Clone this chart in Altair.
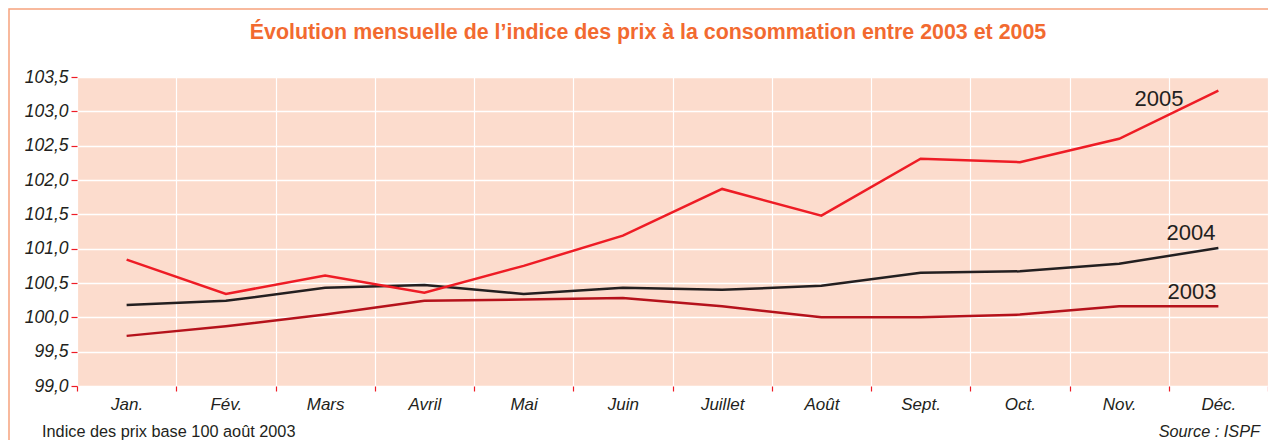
import altair as alt
import pandas as pd

# ---- data ----
months = ["Jan.", "Fév.", "Mars", "Avril", "Mai", "Juin", "Juillet", "Août",
          "Sept.", "Oct.", "Nov.", "Déc."]
idx_2003 = [99.73, 99.87, 100.04, 100.24, 100.26, 100.28, 100.16, 100.00,
            100.00, 100.04, 100.16, 100.16]
idx_2004 = [100.18, 100.24, 100.43, 100.47, 100.34, 100.43, 100.40, 100.46,
            100.65, 100.67, 100.78, 101.01]
idx_2005 = [100.84, 100.34, 100.61, 100.36, 100.75, 101.19, 101.87, 101.48,
            102.31, 102.26, 102.60, 103.30]
years = ["2003", "2004", "2005"]
line_colors = ["#b5121b", "#231f20", "#ee1c25"]
y_ticks = [99.0, 99.5, 100.0, 100.5, 101.0, 101.5, 102.0, 102.5, 103.0, 103.5]

title_text = "Évolution mensuelle de l’indice des prix à la consommation entre 2003 et 2005"
foot_left = "Indice des prix base 100 août 2003"
foot_right = "Source : ISPF"

rows = []
for yr, vals in zip(years, [idx_2003, idx_2004, idx_2005]):
    for m, v in zip(months, vals):
        rows.append({"mois": m, "annee": yr, "indice": v})
df = pd.DataFrame(rows)

FONT = "Liberation Sans"
LEFT, TOP = 69, 69          # plot origin inside the svg
W, H = 1191, 309

x_enc = alt.X(
    "mois:N", sort=months, bandPosition=0.5,
    scale=alt.Scale(type="band", paddingInner=0, paddingOuter=0),
    axis=alt.Axis(title=None, tickBand="extent", domain=False,
                  tickColor="#ee1c25", tickSize=5, tickWidth=1.2,
                  labelFont=FONT, labelFontStyle="italic", labelFontSize=17,
                  labelColor="#231f20", labelAngle=0, labelPadding=5,
                  labelOverlap=False,
                  grid=True, gridColor="white", gridWidth=1.2),
)
y_enc = alt.Y(
    "indice:Q",
    scale=alt.Scale(domain=[99, 103.5], zero=False, nice=False),
    axis=alt.Axis(title=None, values=y_ticks, domain=False,
                  labelExpr="replace(format(datum.value, '.1f'), '.', ',')",
                  labelOverlap=False,
                  tickColor="#ee1c25", tickSize=6, tickWidth=1.2,
                  labelFont=FONT, labelFontStyle="italic", labelFontSize=17.5,
                  labelColor="#231f20", labelPadding=3,
                  grid=True, gridColor="white", gridWidth=1.4),
)
color_enc = alt.Color("annee:N", scale=alt.Scale(domain=years, range=line_colors),
                      legend=None)

base = alt.Chart(df)

lines = base.mark_line(strokeWidth=2.5).encode(x=x_enc, y=y_enc, color=color_enc)


def year_label(yr, dx, dy):
    return base.transform_filter(
        f"datum.annee == '{yr}' && datum.mois == 'Déc.'"
    ).mark_text(align="right", baseline="middle", dx=dx, dy=dy,
                font=FONT, fontSize=22, color="#231f20").encode(
        x=x_enc, y=y_enc, text="annee:N")


lab05 = year_label("2005", -35, 8)
lab04 = year_label("2004", -3, -15)
lab03 = year_label("2003", -2, -14)

border = alt.Chart(pd.DataFrame({"k": [0]})).mark_rect(
    fillOpacity=0, stroke="#f6a27d", strokeWidth=1.5
).encode(x=alt.value(-LEFT + 1), x2=alt.value(1300), y=alt.value(-TOP + 1),
         y2=alt.value(500))

title = alt.Chart(pd.DataFrame({"t": [title_text]})).mark_text(
    align="center", baseline="alphabetic", font=FONT, fontSize=21.4, fontWeight="bold",
    color="#f26a30"
).encode(x=alt.value(648 - 77), y=alt.value(39 - 77), text="t:N")

foot_l = alt.Chart(pd.DataFrame({"t": [foot_left]})).mark_text(
    align="left", baseline="middle", font=FONT, fontSize=16.3, color="#231f20"
).encode(x=alt.value(42 - 77), y=alt.value(432 - 77), text="t:N")

foot_r = alt.Chart(pd.DataFrame({"t": [foot_right]})).mark_text(
    align="right", baseline="middle", font=FONT, fontSize=16.3, fontStyle="italic",
    color="#231f20"
).encode(x=alt.value(1260 - 77), y=alt.value(432 - 77), text="t:N")

chart = alt.layer(border, title, lines, lab05, lab04, lab03, foot_l, foot_r).properties(
    width=W, height=H,
    autosize=alt.AutoSizeParams(type="none"),
    padding={"left": LEFT, "top": TOP, "right": 0, "bottom": 54},
).configure_view(fill="#fcdccd", stroke=None)

chart.save("out.html", embed_options={"renderer": "svg", "actions": False})
